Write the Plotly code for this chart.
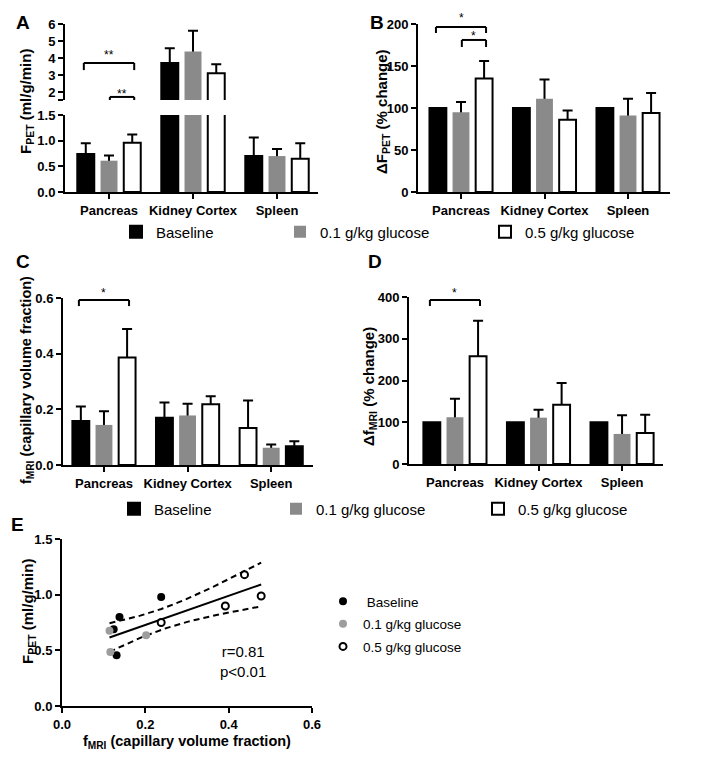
import numpy as np
import plotly.graph_objects as go

W, H = 709, 765
FONT = "Liberation Sans, Arial, Helvetica, sans-serif"

organs = ["Pancreas", "Kidney Cortex", "Spleen"]
groups = ["Baseline", "0.1 g/kg glucose", "0.5 g/kg glucose"]

# ---- Panel A: F_PET (ml/g/min), mean and SD ----
fpet_base = [0.74, 3.70, 0.70]
fpet_base_err = [0.21, 0.88, 0.36]
fpet_low = [0.61, 4.38, 0.70]
fpet_low_err = [0.10, 1.23, 0.14]
fpet_high = [0.96, 3.11, 0.65]
fpet_high_err = [0.16, 0.53, 0.30]

# ---- Panel B: delta F_PET (% change) ----
dfpet_base = [100, 100, 100]
dfpet_low = [95, 111, 91]
dfpet_low_err = [12, 23, 20]
dfpet_high = [135, 86, 94]
dfpet_high_err = [21, 11, 24]

# ---- Panel C: f_MRI (capillary volume fraction), bars in drawn order ----
fmri_slot1 = [0.158, 0.170, 0.133]
fmri_slot1_err = [0.052, 0.055, 0.099]
fmri_slot2 = [0.144, 0.178, 0.062]
fmri_slot2_err = [0.049, 0.042, 0.012]
fmri_slot3 = [0.386, 0.218, 0.067]
fmri_slot3_err = [0.103, 0.029, 0.018]
fmri_slot_colour_groups = [[0, 0, 2], [1, 1, 1], [2, 2, 0]]

# ---- Panel D: delta f_MRI (% change) ----
dfmri_base = [100, 100, 100]
dfmri_low = [112, 111, 72]
dfmri_low_err = [44, 19, 45]
dfmri_high = [258, 142, 74]
dfmri_high_err = [85, 52, 44]

# ---- Panel E: F_PET vs f_MRI ----
e_base_x = [0.124, 0.138, 0.238, 0.131]
e_base_y = [0.69, 0.80, 0.98, 0.456]
e_low_x = [0.114, 0.116, 0.202]
e_low_y = [0.675, 0.486, 0.636]
e_high_x = [0.238, 0.392, 0.438, 0.478]
e_high_y = [0.75, 0.898, 1.18, 0.988]
T975_DF9 = 2.262

FILL = ["black", "#8a8a8a", "white"]
LINEC = ["black", "#8a8a8a", "black"]
LINEW = [2, 0, 2]

fig = go.Figure()
X = [0, 1, 2]


def add_bars(xa, ya, slots, legends=None):
    for k, (vals, errs, cg) in enumerate(slots):
        if errs is not None:
            fig.add_trace(go.Bar(
                x=X, y=vals, xaxis=xa, yaxis=ya, offsetgroup=str(k),
                marker=dict(color="rgba(0,0,0,0)", line=dict(width=0)),
                error_y=dict(type="data", symmetric=False, array=errs, arrayminus=vals,
                             color="black", thickness=2, width=5),
                showlegend=False, hoverinfo="skip"))
        if legends:
            kw = dict(showlegend=True, legend=legends[k])
        else:
            kw = dict(showlegend=False)
        fig.add_trace(go.Bar(
            x=X, y=vals, xaxis=xa, yaxis=ya, offsetgroup=str(k), name=groups[cg[0]],
            marker=dict(color=[FILL[g] for g in cg],
                        line=dict(color=[LINEC[g] for g in cg], width=[LINEW[g] for g in cg])),
            **kw))


same = [[0, 0, 0], [1, 1, 1], [2, 2, 2]]
slotsA = [(fpet_base, fpet_base_err, same[0]), (fpet_low, fpet_low_err, same[1]),
          (fpet_high, fpet_high_err, same[2])]
add_bars("x", "y", slotsA, ["legend", "legend2", "legend3"])
add_bars("x", "y2", slotsA)
add_bars("x2", "y3", [(dfpet_base, None, same[0]), (dfpet_low, dfpet_low_err, same[1]),
                      (dfpet_high, dfpet_high_err, same[2])])
add_bars("x3", "y4", [(fmri_slot1, fmri_slot1_err, fmri_slot_colour_groups[0]),
                      (fmri_slot2, fmri_slot2_err, fmri_slot_colour_groups[1]),
                      (fmri_slot3, fmri_slot3_err, fmri_slot_colour_groups[2])],
         ["legend4", "legend5", "legend6"])
add_bars("x4", "y5", [(dfmri_base, None, same[0]), (dfmri_low, dfmri_low_err, same[1]),
                      (dfmri_high, dfmri_high_err, same[2])])

# Panel E: regression and 95% confidence band
ex = np.array(e_base_x + e_low_x + e_high_x)
ey = np.array(e_base_y + e_low_y + e_high_y)
n = len(ex)
slope, icpt = np.polyfit(ex, ey, 1)
xs = np.linspace(ex.min(), ex.max(), 80)
fit = icpt + slope * xs
resid = ey - (icpt + slope * ex)
s = np.sqrt(np.sum(resid ** 2) / (n - 2))
sxx = np.sum((ex - ex.mean()) ** 2)
half = T975_DF9 * s * np.sqrt(1.0 / n + (xs - ex.mean()) ** 2 / sxx)
for yy, dash in [(fit, "solid"), (fit + half, "6px,4px"), (fit - half, "6px,4px")]:
    fig.add_trace(go.Scatter(x=xs, y=yy, mode="lines", xaxis="x5", yaxis="y6",
                             line=dict(color="black", width=2, dash=dash),
                             showlegend=False, hoverinfo="skip"))
fig.add_trace(go.Scatter(x=e_base_x, y=e_base_y, mode="markers", name=" Baseline",
                         xaxis="x5", yaxis="y6", legend="legend7", legendgroup="a",
                         marker=dict(color="black", size=8)))
fig.add_trace(go.Scatter(x=e_low_x, y=e_low_y, mode="markers", name="0.1 g/kg glucose",
                         xaxis="x5", yaxis="y6", legend="legend7", legendgroup="b",
                         marker=dict(color="#9d9d9d", size=8)))
fig.add_trace(go.Scatter(x=e_high_x, y=e_high_y, mode="markers", name="0.5 g/kg glucose",
                         xaxis="x5", yaxis="y6", legend="legend7", legendgroup="c",
                         marker=dict(color="white", size=7, line=dict(color="black", width=2))))


def xd(a, b):
    return [a / W, b / W]


def yd(top, bottom):
    return [1 - bottom / H, 1 - top / H]


TICKFONT = dict(family=FONT, size=13, color="black", weight="bold")
common = dict(showline=True, linewidth=2, linecolor="black", ticks="outside", ticklen=5,
              tickwidth=2, tickcolor="black", showgrid=False, zeroline=False,
              tickfont=TICKFONT, fixedrange=True, automargin=False)
cat = dict(tickvals=X, ticktext=organs)

fig.update_layout(
    width=W, height=H, margin=dict(l=0, r=0, t=0, b=0, autoexpand=False),
    paper_bgcolor="white", plot_bgcolor="white",
    barmode="group", bargap=0.17, bargroupgap=0.27,
    font=dict(family=FONT, color="black"),
    xaxis=dict(domain=xd(65, 318), anchor="y", range=[-0.524, 2.488], **cat, **common),
    yaxis=dict(domain=yd(115, 192), anchor="x", range=[0, 1.5],
               tickvals=[0, 0.5, 1.0, 1.5], tickformat=".1f", **common),
    yaxis2=dict(domain=yd(24, 100), anchor="x", range=[1.53, 6],
                tickvals=[2, 3, 4, 5, 6],
                minor=dict(tickvals=[1.53], ticks="outside", ticklen=5, tickwidth=2,
                           tickcolor="black", showgrid=False),
                **common),
    xaxis2=dict(domain=xd(418, 670), anchor="y3", range=[-0.515, 2.503], **cat, **common),
    yaxis3=dict(domain=yd(24, 192), anchor="x2", range=[0, 200], dtick=50, **common),
    xaxis3=dict(domain=xd(63, 313), anchor="y4", range=[-0.49, 2.50], **cat, **common),
    yaxis4=dict(domain=yd(298, 465), anchor="x3", range=[0, 0.6], dtick=0.2,
                tickformat=".1f", **common),
    xaxis4=dict(domain=xd(409, 663), anchor="y5", range=[-0.55, 2.49], **cat, **common),
    yaxis5=dict(domain=yd(297, 464), anchor="x4", range=[0, 400], dtick=100, **common),
    xaxis5=dict(domain=xd(62, 312), anchor="y6", range=[0, 0.6], dtick=0.2,
                tickformat=".1f", **common),
    yaxis6=dict(domain=yd(539, 706), anchor="x5", range=[0, 1.5], dtick=0.5,
                tickformat=".1f", **common),
)


def leg(px, py, size=15):
    return dict(x=px / W, y=1 - py / H, xanchor="left", yanchor="middle",
                orientation="h", bgcolor="rgba(0,0,0,0)",
                font=dict(family=FONT, size=size, color="black"))


fig.update_layout(
    legend=leg(116, 232), legend2=leg(280, 232), legend3=leg(485, 232),
    legend4=leg(114, 509), legend5=leg(276, 509), legend6=leg(478, 509),
    legend7=dict(x=323 / W, y=1 - 586 / H, xanchor="left", yanchor="top",
                 orientation="v", bgcolor="rgba(0,0,0,0)", tracegroupgap=2,
                 font=dict(family=FONT, size=13.5, color="black")),
)

ann = []


def paper_text(text, px, py, size, bold=True, angle=0, xanchor="center"):
    ann.append(dict(text=text, x=px / W, y=1 - py / H, xref="paper", yref="paper",
                    showarrow=False, textangle=angle, xanchor=xanchor, yanchor="middle",
                    font=dict(family=FONT, size=size, color="black",
                              weight="bold" if bold else "normal")))


for letter, px, py in [("A", 23, 22), ("B", 377, 22), ("C", 23, 261), ("D", 375, 261), ("E", 17, 524)]:
    paper_text(letter, px, py, 19)

paper_text("F<sub>PET</sub> (ml/g/min)", 27, 102, 15, angle=-90)
paper_text("ΔF<sub>PET</sub> (% change)", 382, 112, 15, angle=-90)
paper_text("f<sub>MRI</sub> (capillary volume fraction)", 27, 380, 14.5, angle=-90)
paper_text("Δf<sub>MRI</sub> (% change)", 369, 387, 15, angle=-90)
paper_text("F<sub>PET</sub> (ml/g/min)", 28, 612, 15, angle=-90)
paper_text("f<sub>MRI</sub> (capillary volume fraction)", 187, 742, 14.5)

ann.append(dict(text="r=0.81<br>p&lt;0.01", x=0.435, y=0.40, xref="x5", yref="y6",
                showarrow=False, align="center", xanchor="center", yanchor="middle",
                font=dict(family=FONT, size=15, color="black")))

# significance brackets:
# (x-axis, y-axis, organ, from slot, to slot, bracket level, leg end, star offset px, label)
SLOT = 0.3
brackets = [
    ("x", "y2", 0, 0, 2, 3.71, 3.29, 11, "**"),
    ("x", "y2", 0, 1, 2, 1.71, 1.53, 6, "**"),
    ("x2", "y3", 0, 0, 2, 196.4, 189.3, 12, "*"),
    ("x2", "y3", 0, 1, 2, 181.0, 172.6, 7, "*"),
    ("x3", "y4", 0, 0, 2, 0.593, 0.571, 10, "*"),
    ("x4", "y5", 0, 0, 2, 392.8, 378.4, 10, "*"),
]
shapes = []
for xa, ya, org, a, b, top, leg_end, star_px, label in brackets:
    x0 = org + (a - 1) * SLOT
    x1 = org + (b - 1) * SLOT
    if a == 1:
        x0 = org + 0.01
    for (u0, v0, u1, v1) in [(x0, leg_end, x0, top), (x0, top, x1, top), (x1, top, x1, leg_end)]:
        shapes.append(dict(type="line", xref=xa, yref=ya, x0=u0, y0=v0, x1=u1, y1=v1,
                           line=dict(color="black", width=2)))
    ann.append(dict(text=label, x=(x0 + x1) / 2, y=top, xref=xa, yref=ya, showarrow=False,
                    xanchor="center", yanchor="middle", yshift=star_px - 3,
                    font=dict(family=FONT, size=12, color="black")))

fig.update_layout(annotations=ann, shapes=shapes)
fig.write_html("out.html", config={"displayModeBar": False},
               post_script="document.body.style.margin='0px';")
